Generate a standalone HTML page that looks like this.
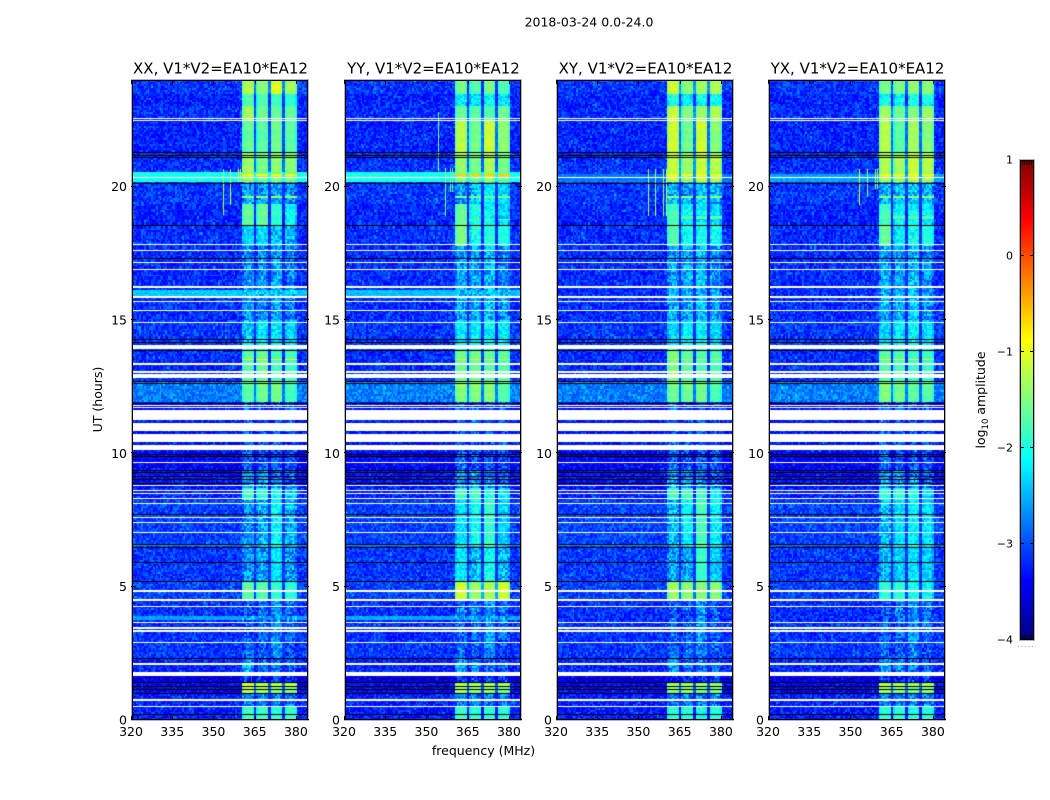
<!DOCTYPE html>
<html lang="en">
<head>
<meta charset="utf-8">
<title>2018-03-24 0.0-24.0</title>
<style>
html,body{margin:0;padding:0;background:#fff;}
#figure{position:relative;width:1050px;height:800px;overflow:hidden;background:#fff;font-family:"DejaVu Sans","Liberation Sans",sans-serif;}
canvas{position:absolute;top:80px;width:177px;height:640px;background:#fff;}
svg{position:absolute;left:0;top:0;}
text{fill:#000;font-family:"DejaVu Sans","Liberation Sans",sans-serif;font-size:12.5px;}
</style>
</head>
<body>
<div id="figure">
<canvas id="heat-0" width="177" height="640" style="left:131px"></canvas>
<canvas id="heat-1" width="177" height="640" style="left:344px"></canvas>
<canvas id="heat-2" width="177" height="640" style="left:556px"></canvas>
<canvas id="heat-3" width="177" height="640" style="left:768px"></canvas>
<svg id="overlay" width="1050" height="800" viewBox="0 0 1050 800">
<defs><linearGradient id="jet-gradient" x1="0" y1="1" x2="0" y2="0"></linearGradient></defs>
<text x="589" y="26.5" text-anchor="middle">2018-03-24 0.0-24.0</text>
<text x="483.5" y="755" text-anchor="middle">frequency (MHz)</text>
<text transform="translate(102,399.5) rotate(-90)" text-anchor="middle">UT (hours)</text>
<text transform="translate(985,400) rotate(-90)" text-anchor="middle">log<tspan dy="3" font-size="8.5">10</tspan><tspan dy="-3"> amplitude</tspan></text>
<rect x="1019.5" y="159.5" width="15" height="481" fill="url(#jet-gradient)" stroke="#b4b4b4"></rect>
<rect x="1020.5" y="160.5" width="13" height="479" fill="none" stroke="#000"></rect>
<line x1="1018" y1="646.5" x2="1036" y2="646.5" stroke="#aaa" stroke-dasharray="1 2.5"></line>
</svg>
</div>
<script>
// Axis data
const freqTicks = [320, 335, 350, 365, 380];
const timeTicks = [0, 5, 10, 15, 20];
const colorTicks = [-4, -3, -2, -1, 0, 1];
const colorMinorBottom = [-3.97, -3.94, -3.91, -3.88, -3.85];
const colorMinorTop = [0.85, 0.88, 0.91, 0.94, 0.97];
const panelNames = ["XX", "YY", "XY", "YX"];
const baselineName = "V1*V2=EA10*EA12";
const freqRange = [320, 384.4];
const timeRange = [0, 24];
const colorRange = [-4, 1];
const channelWidth = 0.625;
const integrationTime = 0.075;

// Frequency edges (MHz) of the four bright sub-bands
const bandStart = [360.8, 365.9, 371.0, 376.1];
const bandEnd = [365.1, 370.3, 375.3, 380.4];

// Time edges (hours) of the visually distinct segments
const timeEdges = [0, 0.56, 1.0, 1.39, 1.8, 2.33, 3.0, 4.5, 5.21, 6.49, 8.25, 8.7, 9.38, 10.05, 11.89, 12.64, 13.88, 14.21, 15.0, 17.81, 18.56, 19.35, 20.14, 21.19, 22.5, 23.06, 23.44, 24];

// Off-band log10 amplitude per segment
const backgroundLevels = [-3.3, -3.25, -3.45, -3.6, -3.25, -3.15, -3.2, -3.1, -3.15, -3.1, -3.25, -3.35, -3.45, -3.35, -2.8, -3.2, -3.15, -3.15, -3.2, -3.2, -3.25, -3.15, -3.2, -3.25, -3.2, -3.25, -3.15];

// In-band log10 amplitude: one row per segment, one column per sub-band
const levelsXX = [
[-1.8,-1.8,-1.9,-1.8],[-2.8,-2.8,-2.8,-2.8],[-1.2,-1.35,-1.5,-1.5],[-3.2,-3.2,-3.2,-3.2],[-2.55,-2.85,-2.85,-2.95],[-2.85,-2.9,-2.7,-3],[-2.95,-2.85,-2.65,-2.85],
[-1.65,-1.7,-1.9,-1.9],[-2.6,-2.6,-2.25,-2.6],[-2.65,-2.5,-2.15,-2.5],[-1.8,-1.9,-2.1,-2.4],[-2.6,-2.6,-2.8,-2.9],[-2.9,-3,-3,-3],
[-2.9,-3,-3,-3],[-1.65,-1.55,-1.55,-1.75],[-1.7,-1.6,-1.8,-1.8],[-2.1,-2.0,-2.0,-2.2],[-2.4,-2.25,-2.25,-2.35],[-2.65,-2.65,-2.55,-2.75],
[-2.3,-2.3,-2.4,-2.5],[-1.6,-1.6,-1.9,-2.1],[-2.6,-2.6,-2.6,-2.7],[-1.35,-1.55,-1.45,-1.45],[-1.6,-1.65,-1.55,-1.65],[-1.3,-1.55,-1.6,-1.6],[-1.7,-1.7,-1.8,-1.9],[-1.25,-1.45,-1.05,-1.35]];
const levelsYY = [
[-1.8,-1.9,-1.9,-1.9],[-2.8,-2.8,-2.8,-2.8],[-1.3,-1.45,-1.45,-1.55],[-3.2,-3.2,-3.2,-3.2],[-2.65,-2.75,-2.85,-2.95],[-2.85,-2.9,-2.75,-3],[-2.85,-2.85,-2.65,-2.85],
[-1.1,-1.35,-1.25,-1.1],[-2.2,-2.45,-2.05,-2.45],[-2.25,-2.05,-1.85,-2.35],[-1.8,-1.8,-2.0,-2.2],[-2.6,-2.6,-2.7,-2.9],[-2.9,-3,-3,-3],
[-2.9,-3,-3,-3],[-1.45,-1.45,-1.45,-1.65],[-1.55,-1.55,-1.65,-1.65],[-2,-2,-2,-2.1],[-2.2,-2.2,-2.15,-2.2],[-2.55,-2.55,-2.45,-2.65],
[-1.5,-2.05,-1.95,-1.95],[-1.6,-2,-2.1,-2.3],[-2.6,-2.4,-2.2,-2.3],[-1.4,-1.55,-1.3,-1.55],[-1.2,-1.55,-1.1,-1.4],[-1.6,-1.65,-1.7,-1.55],[-2.2,-2.2,-2.1,-2.2],[-1.55,-1.75,-1.55,-1.75]];
const levelsXY = [
[-1.9,-1.9,-2,-1.9],[-2.8,-2.8,-2.8,-2.8],[-1.45,-1.45,-1.55,-1.55],[-3.2,-3.2,-3.2,-3.2],[-2.65,-2.85,-2.85,-2.95],[-2.85,-2.9,-2.75,-3],[-2.95,-2.95,-2.65,-2.95],
[-1.35,-1.45,-1.45,-1.45],[-2.55,-2.55,-1.85,-2.35],[-2.45,-2.15,-1.75,-2.15],[-1.8,-1.8,-1.8,-2.2],[-2.6,-2.6,-2.7,-2.9],[-2.9,-3,-3,-3],
[-2.9,-3,-3,-3],[-1.55,-1.55,-1.55,-1.75],[-1.5,-1.65,-1.75,-1.75],[-2.1,-2.0,-2.0,-2.2],[-2.3,-2.2,-2.15,-2.3],[-2.55,-2.55,-2.45,-2.65],
[-1.7,-2.05,-2.05,-2.05],[-1.8,-2.1,-2.2,-2.3],[-2.5,-2.6,-2.4,-2.5],[-1.15,-1.35,-1.15,-1.25],[-1.1,-1.55,-1.1,-1.45],[-1.1,-1.45,-1.35,-1.25],[-2.0,-2.1,-2.1,-2],[-1.1,-1.45,-1.35,-1.25]];
const levelsYX = [
[-1.9,-1.9,-2,-1.9],[-2.8,-2.8,-2.8,-2.8],[-1.35,-1.45,-1.55,-1.45],[-3.2,-3.2,-3.2,-3.2],[-2.65,-2.85,-2.85,-2.95],[-2.85,-2.9,-2.75,-3],[-2.95,-2.85,-2.65,-2.85],
[-1.9,-1.9,-2.0,-2.1],[-2.45,-2.35,-2.25,-2.35],[-2.45,-2.25,-2.15,-2.25],[-1.9,-1.9,-2.0,-2.3],[-2.6,-2.6,-2.7,-2.9],[-2.9,-3,-3,-3],
[-2.9,-3,-3,-3],[-1.45,-1.55,-1.65,-1.65],[-1.65,-1.75,-1.85,-1.85],[-2.1,-2.0,-2.0,-2.2],[-2.3,-2.2,-2.15,-2.3],[-2.55,-2.55,-2.45,-2.65],
[-1.6,-2.15,-2.05,-1.95],[-1.8,-2.1,-2.1,-2.2],[-2.5,-2.4,-2.4,-2.5],[-1.25,-1.35,-1.15,-1.25],[-1.2,-1.65,-1.3,-1.45],[-1.3,-1.55,-1.45,-1.35],[-2,-2.1,-2,-2],[-1.55,-1.55,-1.45,-1.45]];
const panelLevels = [levelsXX, levelsYY, levelsXY, levelsYX];

// Broadband brighter time strips: start hour, end hour, log10 amplitude
const stripsXX = [[20.14,20.56,-2.05],[15.9,16.13,-2.4],[3.75,3.88,-2.6],[6.49,6.6,-2.7]];
const stripsYY = [[20.14,20.56,-2.05],[15.9,16.13,-2.45],[3.75,3.88,-2.55],[6.49,6.6,-2.7]];
const stripsXY = [[20.2,20.45,-2.8],[6.49,6.6,-2.7]];
const stripsYX = [[20.2,20.45,-2.6],[6.49,6.6,-2.8]];
const panelStrips = [stripsXX, stripsYY, stripsXY, stripsYX];

// Narrow RFI spikes: frequency, start hour, end hour, log10 amplitude
const spikesXX = [[353.5,18.94,20.66,-1.3],[356,19.3,20.66,-1.2],[359,20.18,20.66,-1.1],[359.8,20.18,20.66,-1.1]];
const spikesYY = [[354.2,20.6,22.8,-1.5],[356.7,18.9,20.7,-1.5],[358.5,19.8,20.7,-1.6],[359.3,19.8,20.7,-1.6]];
const spikesXY = [[353.5,18.9,20.66,-1.3],[356,18.9,20.66,-1.4],[359,18.9,20.66,-1.4],[360,18.9,20.66,-1.3]];
const spikesYX = [[353,19.3,20.66,-1.1],[356,19.6,20.66,-1.3],[359,19.9,20.66,-1.4],[359.8,19.9,20.66,-1.3]];
const panelSpikes = [spikesXX, spikesYY, spikesXY, spikesYX];

// Narrow bright in-band rows: hour, log10 amplitude
const linesXX = [[20.42,-0.9],[19.58,-1.4],[13.54,-0.85],[1.2,-1.2],[1.32,-1.1]];
const linesYY = [[20.42,-0.65],[19.58,-1.5],[18.75,-1.6],[13.54,-1.2],[1.2,-1.3],[1.32,-1.2]];
const linesXY = [[20.42,-0.95],[19.58,-1.4],[18.9,-1.7],[13.54,-1.3],[1.2,-1.4],[1.32,-1.3]];
const linesYX = [[20.42,-0.95],[19.58,-1.4],[18.9,-1.7],[13.54,-0.95],[1.2,-1.3],[1.32,-1.2]];
const panelLines = [linesXX, linesYY, linesXY, linesYX];

// Flagged (white) time ranges: start hour, end hour
const flaggedHours = [[22.52,22.56],[22.46,22.5],[20.33,20.38],[17.81,17.85],[17.61,17.64],[17.12,17.16],[16.89,16.93],[16.2,16.26],[15.84,15.9],[15.69,15.73],[15.36,15.39],[14.87,14.91],[13.91,14.06],[13.33,13.37],[13.03,13.07],[12.83,12.98],[11.78,11.81],[11.7,11.74],[11.25,11.63],[10.84,11.14],[10.43,10.73],[10.13,10.31],[9.64,9.68],[8.78,8.81],[8.57,8.61],[8.48,8.51],[8.27,8.31],[8.1,8.14],[7.58,7.63],[7.39,7.44],[7.0,7.04],[4.8,4.86],[4.46,4.54],[4.26,4.29],[3.62,3.69],[3.43,3.47],[3.3,3.36],[2.87,2.91],[2.08,2.12],[1.65,1.8],[0.73,0.77],[0.47,0.51]];

// Dropped (black) integrations: hour
const droppedHours = [21.3,21.2,21.13,20.14,18.56,17.33,14.3,14.18,13.86,12.71,12.64,11.89,9.98,9.91,9.38,9.3,9.15,9.04,8.89,7.72,6.6,6.49,5.92,5.2,2.33,1.44,1.29,1.18,1.02,0.23];

// Fine pixel-to-pixel scatter
const speckle = [0.12,-0.28,0.31,-0.07,0.22,-0.34,0.05,0.38,-0.19,0.09,-0.41,0.27,-0.12,0.16,-0.25,0.44,-0.03,-0.31,0.19,0.02,-0.16,0.34,-0.38,0.08,0.25,-0.22,0.62,-0.09,0.13,-0.36,0.29,-0.05,0.21,-0.27,0.4,-0.14,0.03,-0.33,0.17,0.36,-0.2,0.06,-0.44,0.24,-0.1,0.32,-0.24,0.11,-0.02,0.48,-0.3,0.15,-0.17,0.26,-0.39,0.07,0.2,-0.11,0.35,-0.26,0.01,-0.35,0.28,0.1];

const SVGNS = "http://www.w3.org/2000/svg";
const overlay = document.getElementById("overlay");

function jet(norm) {
  const n = Math.max(0, Math.min(1, norm));
  const clip = v => Math.max(0, Math.min(1, v));
  const r = clip(Math.min(4 * n - 1.5, -4 * n + 4.5));
  const g = clip(Math.min(4 * n - 0.5, -4 * n + 3.5));
  const b = clip(Math.min(4 * n + 0.5, -4 * n + 2.5));
  return "rgb(" + Math.round(r * 255) + "," + Math.round(g * 255) + "," + Math.round(b * 255) + ")";
}
function colorOf(level) {
  return jet((level - colorRange[0]) / (colorRange[1] - colorRange[0]));
}
function makeSvg(tag, parent) {
  const el = document.createElementNS(SVGNS, tag);
  parent.appendChild(el);
  return el;
}
function segmentOf(hour) {
  for (let i = 0; i < timeEdges.length - 1; i++) {
    if (hour >= timeEdges[i] && hour < timeEdges[i + 1]) return i;
  }
  return timeEdges.length - 2;
}
function scatter(col, row, p) {
  let h = Math.imul(col + 1 + p * 211, 2654435761) ^ Math.imul(row + 1, 2246822519);
  h ^= h >>> 15;
  h = Math.imul(h, 3266489917);
  h ^= h >>> 13;
  h = Math.imul(h, 668265263);
  h ^= h >>> 16;
  return speckle[(h >>> 0) % speckle.length];
}
function cellLevel(p, freq, hour, col, row) {
  const seg = segmentOf(hour);
  let base = backgroundLevels[seg];
  let stripped = false;
  for (const s of panelStrips[p]) {
    if (hour >= s[0] && hour < s[1] && s[2] > base) { base = s[2]; stripped = true; }
  }
  let scale = stripped ? 0.3 : 0.85;
  let level = base;
  const rowLevels = panelLevels[p][seg];
  const first = bandStart[0], last = bandEnd[bandEnd.length - 1];
  let inBandFlag = false;
  if (freq >= first && freq <= last) {
    let inBand = false;
    for (let b = 0; b < bandStart.length; b++) {
      if (freq >= bandStart[b] && freq <= bandEnd[b]) {
        const mid = (bandStart[b] + bandEnd[b]) / 2;
        const u = (freq - mid) / (bandEnd[b] - mid);
        level = Math.max(base, rowLevels[b] - 0.3 * u * u * u * u);
        inBand = true;
        scale = rowLevels[b] > -2.0 ? 0.22 : (rowLevels[b] > -2.4 ? 0.6 : 1.0);
      }
    }
    if (!inBand) {
      level = Math.max(base, Math.min(rowLevels[0], rowLevels[3]) - 1.4);
      scale = 0.4;
    } else {
      inBandFlag = true;
      level += speckle[(row * 23 + seg) % speckle.length] * 0.15;
      for (const l of panelLines[p]) {
        if (Math.abs(hour - l[0]) <= integrationTime / 2) { level = l[1]; scale = 0.1; }
      }
    }
  }
  let n = scatter(col, row, p);
  if (!inBandFlag && n < 0) n *= 0.6;
  return level + n * scale;
}

// Colorbar gradient
const grad = document.getElementById("jet-gradient");
const gradPositions = [0, 0.11, 0.125, 0.35, 0.375, 0.5, 0.625, 0.64, 0.875, 0.91, 1];
for (const pos of gradPositions) {
  const stop = makeSvg("stop", grad);
  stop.setAttribute("offset", pos);
  stop.setAttribute("stop-color", jet(pos));
}

// Panels
for (let p = 0; p < panelNames.length; p++) {
  const canvas = document.getElementById("heat-" + p);
  const left = canvas.offsetLeft, top = canvas.offsetTop, W = canvas.offsetWidth, H = canvas.offsetHeight;
  const xScale = f => left + (f - freqRange[0]) / (freqRange[1] - freqRange[0]) * W;
  const yScale = h => top + H - (h - timeRange[0]) / (timeRange[1] - timeRange[0]) * H;
  const ctx = canvas.getContext("2d");
  const nCols = Math.ceil((freqRange[1] - freqRange[0]) / channelWidth);
  const nRows = Math.ceil((timeRange[1] - timeRange[0]) / integrationTime);
  for (let r = 0; r < nRows; r++) {
    const hour = timeRange[0] + (r + 0.5) * integrationTime;
    const y1 = yScale(timeRange[0] + (r + 1) * integrationTime) - top;
    const y0 = yScale(timeRange[0] + r * integrationTime) - top;
    for (let c = 0; c < nCols; c++) {
      const freq = freqRange[0] + (c + 0.5) * channelWidth;
      const x0 = xScale(freqRange[0] + c * channelWidth) - left;
      const x1 = xScale(freqRange[0] + (c + 1) * channelWidth) - left;
      ctx.fillStyle = colorOf(cellLevel(p, freq, hour, c, r));
      ctx.fillRect(Math.floor(x0), Math.floor(y1), Math.ceil(x1) - Math.floor(x0), Math.ceil(y0) - Math.floor(y1));
    }
  }
  // Spikes
  for (const s of panelSpikes[p]) {
    ctx.fillStyle = colorOf(s[3]);
    const y0 = yScale(s[2]) - top;
    const y1 = yScale(s[1]) - top;
    ctx.fillRect(Math.round(xScale(s[0]) - left), Math.round(y0), 1, Math.round(y1 - y0));
  }
  // Flagged rows
  for (const f of flaggedHours) {
    const yA = Math.round(yScale(f[1]) - top);
    const yB = Math.round(yScale(f[0]) - top);
    ctx.clearRect(0, yA, W, Math.max(1, yB - yA));
  }
  // Dropped rows
  ctx.fillStyle = "#000";
  for (const d of droppedHours) {
    ctx.fillRect(0, Math.round(yScale(d) - top), W, 1);
  }
  // Frame
  const frameOuter = makeSvg("rect", overlay);
  frameOuter.setAttribute("x", left + 0.5);
  frameOuter.setAttribute("y", top - 0.5);
  frameOuter.setAttribute("width", W);
  frameOuter.setAttribute("height", H + 1);
  frameOuter.setAttribute("fill", "none");
  frameOuter.setAttribute("stroke", "#b4b4b4");
  
  
  const frame = makeSvg("rect", overlay);
  frame.setAttribute("x", left + 1.5);
  frame.setAttribute("y", top + 0.5);
  frame.setAttribute("width", W - 2);
  frame.setAttribute("height", H - 1);
  frame.setAttribute("fill", "none");
  frame.setAttribute("stroke", "#000");
  
  
  // Title
  const title = makeSvg("text", overlay);
  title.textContent = panelNames[p] + ", " + baselineName;
  title.setAttribute("x", left + W / 2 + 1);
  title.setAttribute("y", 73.5);
  title.setAttribute("text-anchor", "middle");
  title.style.fontSize = "15px";
  
  
  // X ticks
  for (const f of freqTicks) {
    const x = Math.round(xScale(f)) + 0.5;
    for (const end of [[top + H, top + H - 4], [top, top + 4]]) {
      const tick = makeSvg("line", overlay);
      tick.setAttribute("x1", x);
      tick.setAttribute("x2", x);
      tick.setAttribute("y1", end[0]);
      tick.setAttribute("y2", end[1]);
      tick.setAttribute("stroke", "#000");
      
      
    }
    const label = makeSvg("text", overlay);
    label.textContent = f;
    label.setAttribute("x", xScale(f));
    label.setAttribute("y", 736);
    label.setAttribute("text-anchor", "middle");
    
    
  }
  // Y ticks
  for (const h of timeTicks) {
    const y = Math.round(yScale(h)) - 0.5;
    for (const end of [[left, left + 5], [left + W + 1, left + W - 4]]) {
      const tick = makeSvg("line", overlay);
      tick.setAttribute("x1", end[0]);
      tick.setAttribute("x2", end[1]);
      tick.setAttribute("y1", y);
      tick.setAttribute("y2", y);
      tick.setAttribute("stroke", "#000");
      
      
    }
    const label = makeSvg("text", overlay);
    label.textContent = h;
    label.setAttribute("x", left - 4);
    label.setAttribute("y", yScale(h) + 4.5);
    label.setAttribute("text-anchor", "end");
    
    
  }
}

// Colorbar ticks
const cbTop = 160, cbHeight = 480, cbLeft = 1020, cbRight = 1034;
const cScale = v => cbTop + cbHeight - (v - colorRange[0]) / (colorRange[1] - colorRange[0]) * cbHeight;
for (const v of colorTicks) {
  const y = Math.round(cScale(v)) - (v === colorRange[0] ? 0.5 : (v === colorRange[1] ? -0.5 : 0.5));
  for (const end of [[cbLeft, cbLeft + 4], [cbRight, cbRight - 4]]) {
    const tick = makeSvg("line", overlay);
    tick.setAttribute("x1", end[0]);
    tick.setAttribute("x2", end[1]);
    tick.setAttribute("y1", y);
    tick.setAttribute("y2", y);
    tick.setAttribute("stroke", "#000");
    
    
  }
  const label = makeSvg("text", overlay);
  label.textContent = String(v).replace("-", "\u2212");
  label.setAttribute("x", 1013);
  label.setAttribute("y", cScale(v) + 3.5);
  label.setAttribute("text-anchor", "end");
  label.style.fontSize = "11px";
  
  
}
colorMinorBottom.forEach((v, i) => {
  const x = cbLeft + 2.5 + i * 2.25;
  const tick = makeSvg("line", overlay);
  tick.setAttribute("x1", x);
  tick.setAttribute("x2", x);
  tick.setAttribute("y1", cbTop + cbHeight);
  tick.setAttribute("y2", cbTop + cbHeight - 5);
  tick.setAttribute("stroke", "#000");
  tick.setAttribute("stroke-width", "0.8");
  
  
});
colorMinorTop.forEach((v, i) => {
  const x = cbLeft + 2.5 + i * 2.25;
  const tick = makeSvg("line", overlay);
  tick.setAttribute("x1", x);
  tick.setAttribute("x2", x);
  tick.setAttribute("y1", cbTop);
  tick.setAttribute("y2", cbTop + 5);
  tick.setAttribute("stroke", "#000");
  tick.setAttribute("stroke-width", "0.8");
  
  
});
</script>
</body>
</html>
